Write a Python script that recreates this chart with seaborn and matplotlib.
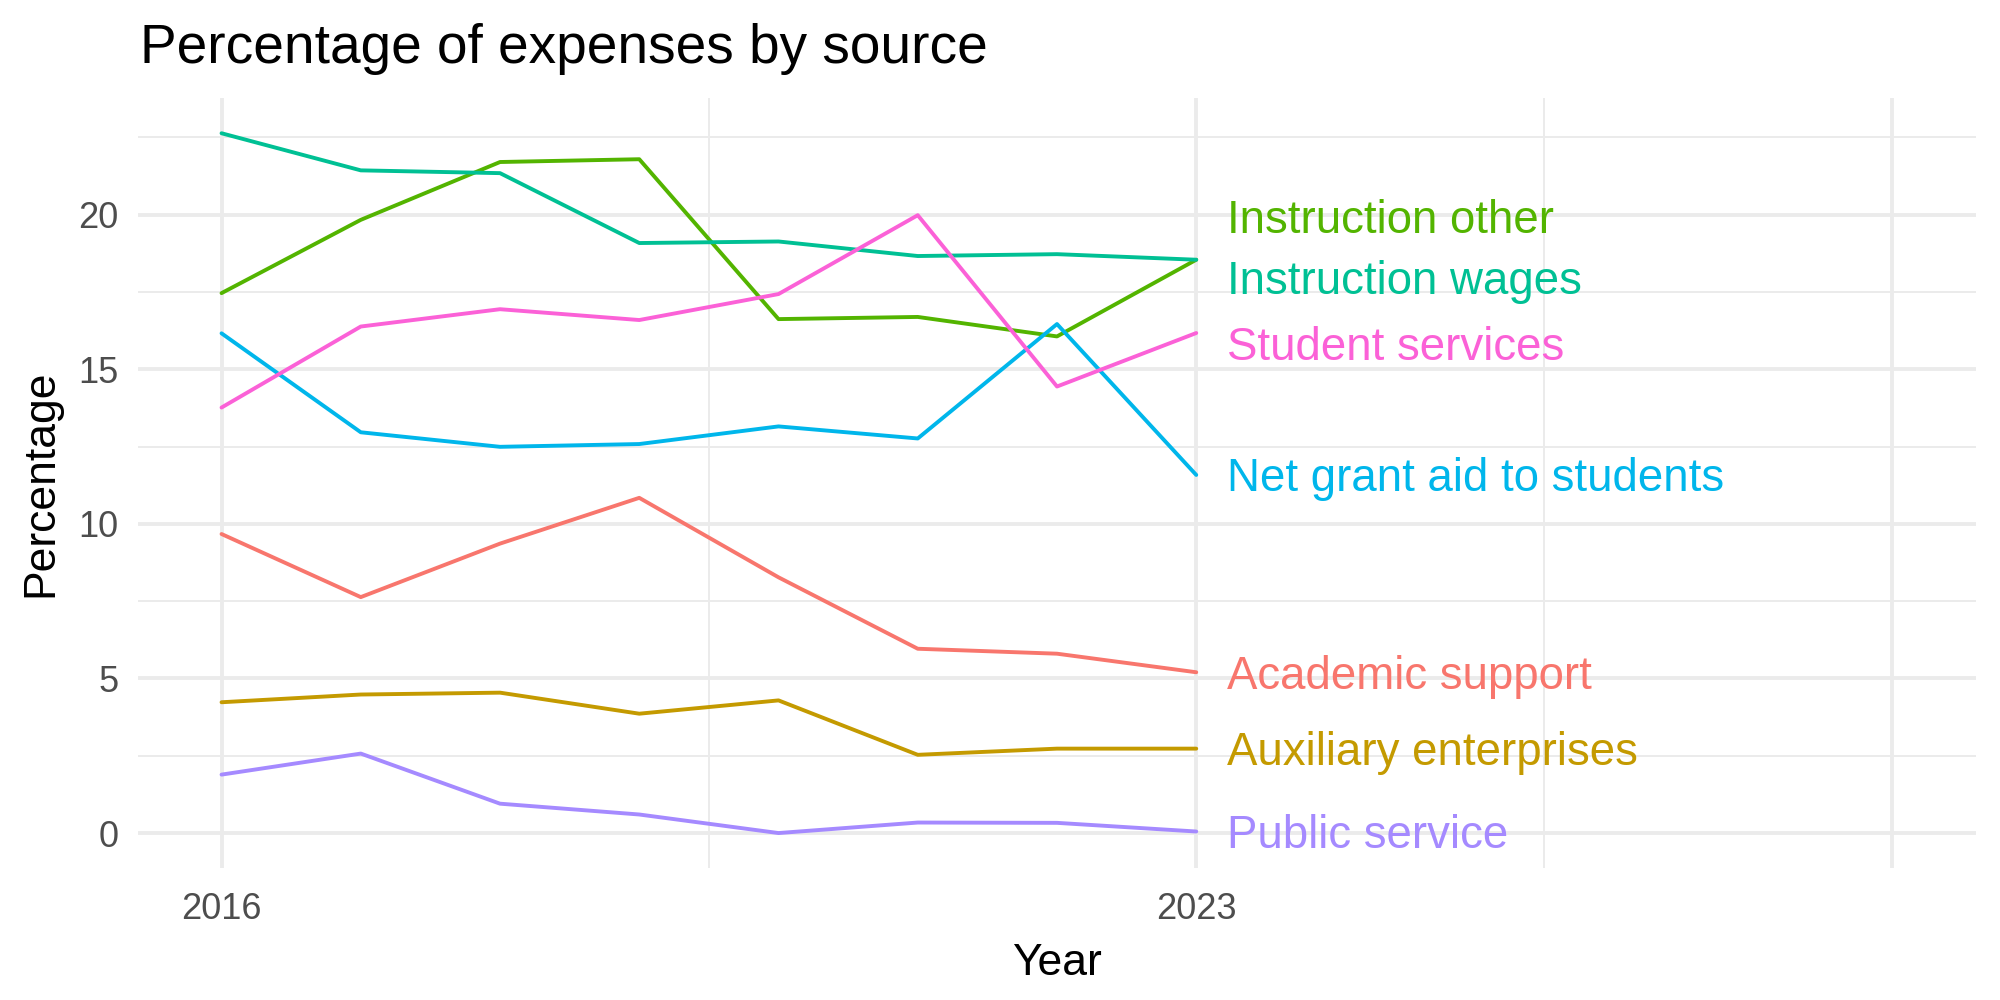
import pandas as pd
import matplotlib
matplotlib.use("Agg")
import matplotlib.pyplot as plt
import seaborn as sns

years = [2016, 2017, 2018, 2019, 2020, 2021, 2022, 2023]

academic_support = [9.67, 7.63, 9.36, 10.84, 8.27, 5.96, 5.80, 5.20]
auxiliary_enterprises = [4.23, 4.48, 4.54, 3.86, 4.29, 2.53, 2.73, 2.73]
instruction_other = [17.46, 19.83, 21.70, 21.79, 16.62, 16.69, 16.06, 18.54]
instruction_wages = [22.63, 21.43, 21.34, 19.08, 19.13, 18.66, 18.72, 18.54]
net_grant_aid = [16.16, 12.96, 12.49, 12.58, 13.15, 12.76, 16.46, 11.58]
public_service = [1.89, 2.57, 0.95, 0.60, 0.00, 0.34, 0.33, 0.05]
student_services = [13.76, 16.38, 16.94, 16.59, 17.43, 19.98, 14.44, 16.17]

sources = ["Academic support", "Auxiliary enterprises", "Instruction other",
           "Instruction wages", "Net grant aid to students", "Public service",
           "Student services"]
series = [academic_support, auxiliary_enterprises, instruction_other,
          instruction_wages, net_grant_aid, public_service, student_services]

# ggplot default hue colours
colors = ["#F8766D", "#C49A00", "#53B400", "#00C094", "#00B6EB", "#A58AFF", "#FB61D7"]
palette = dict(zip(sources, colors))

# end-label heights after repelling
label_y = [5.04, 2.58, 19.80, 17.82, 11.45, -0.08, 15.69]

rows = []
for src, vals in zip(sources, series):
    for yr, v in zip(years, vals):
        rows.append({"Year": yr, "Percentage": v, "source": src})
df = pd.DataFrame(rows)

sns.set_style("white")
plt.rcParams["font.family"] = ["Liberation Sans", "DejaVu Sans"]
plt.rcParams["text.color"] = "black"
plt.rcParams["axes.labelcolor"] = "black"

fig = plt.figure(figsize=(10, 5), dpi=200)
ax = fig.add_axes([0.069, 0.132, 0.919, 0.770])

sns.lineplot(data=df, x="Year", y="Percentage", hue="source", palette=palette,
             linewidth=1.4, legend=False, ax=ax, zorder=3)

for src, ly in zip(sources, label_y):
    ax.text(2023.22, ly, src, color=palette[src], fontsize=16.45,
            va="center", ha="left", zorder=4)

ax.set_xlim(2015.4, 2028.6)
ax.set_ylim(-1.13, 23.77)
ax.set_xticks([2016, 2023, 2028])
ax.set_xticklabels(["2016", "2023", ""])
ax.set_xticks([2019.5, 2025.5], minor=True)
ax.set_yticks([0, 5, 10, 15, 20])
ax.set_yticks([2.5, 7.5, 12.5, 17.5, 22.5], minor=True)

ax.grid(which="major", color="#EBEBEB", linewidth=1.4)
ax.grid(which="minor", color="#EBEBEB", linewidth=0.7)
ax.set_axisbelow(True)
for s in ax.spines.values():
    s.set_visible(False)
ax.tick_params(which="both", length=0, labelsize=13, labelcolor="#4D4D4D")
ax.tick_params(axis="x", pad=8.5)
ax.tick_params(axis="y", pad=7)

ax.set_xlabel("Year", fontsize=16, labelpad=6)
ax.set_ylabel("Percentage", fontsize=16, labelpad=6)
fig.text(0.070, 0.937, "Percentage of expenses by source", fontsize=19.8,
         ha="left", va="baseline", color="black")

fig.savefig("out.png", dpi=200, facecolor="white")
